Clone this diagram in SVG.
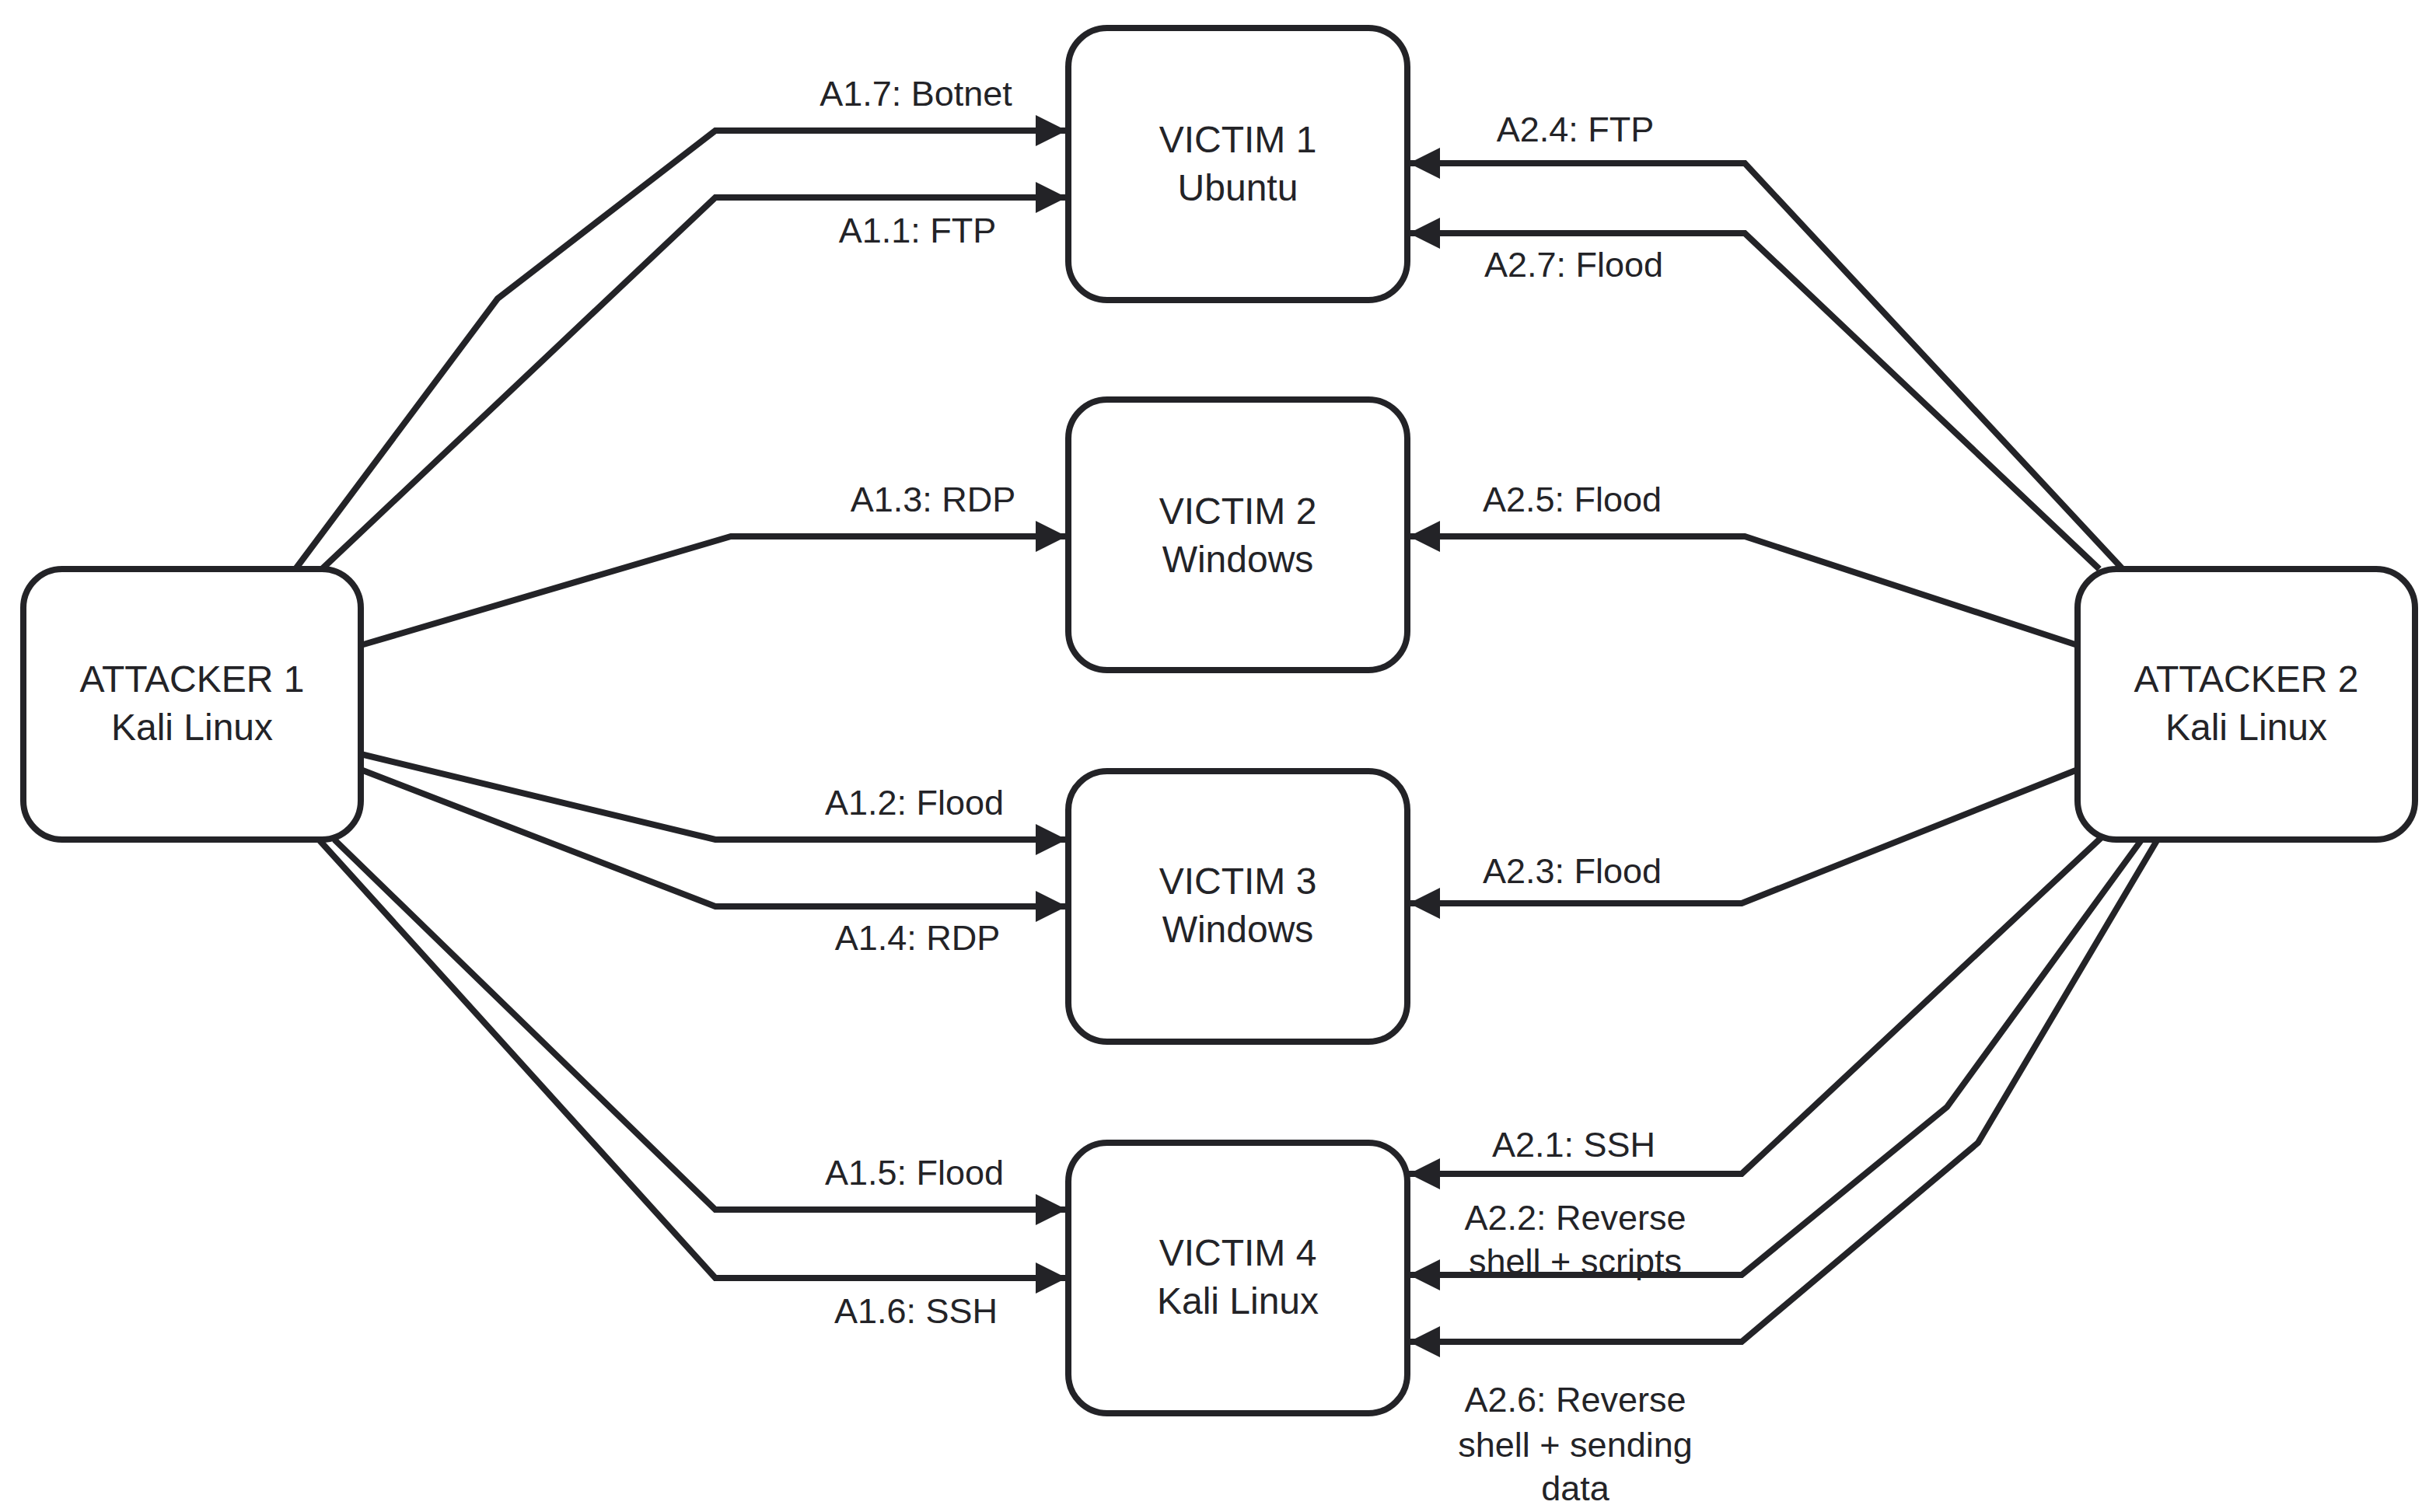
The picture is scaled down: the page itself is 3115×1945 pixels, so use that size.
<svg xmlns="http://www.w3.org/2000/svg" width="3115" height="1945" viewBox="0 0 3115 1945">
<style>
.box{fill:#fff;stroke:#232327;stroke-width:8}
.e{fill:none;stroke:#232327;stroke-width:8;stroke-linejoin:miter}
text{font-family:"Liberation Sans",Arial,sans-serif;fill:#232327;text-anchor:middle}
.n{font-size:48px}
.l{font-size:45px}
</style>
<defs>
<marker id="ah" markerUnits="userSpaceOnUse" markerWidth="44" markerHeight="40" refX="40" refY="20" orient="auto">
<path d="M0,0 L40,20 L0,40 Z" fill="#232327"/>
</marker>
</defs>
<rect width="3115" height="1945" fill="#fff"/>
<g id="connectors">
<polyline class="e" marker-end="url(#ah)" points="380,732 640,384 920,168 1372,168"/>
<polyline class="e" marker-end="url(#ah)" points="414,732 920,254 1372,254"/>
<polyline class="e" marker-end="url(#ah)" points="464,830 940,690 1372,690"/>
<polyline class="e" marker-end="url(#ah)" points="464,970 920,1080 1372,1080"/>
<polyline class="e" marker-end="url(#ah)" points="464,990 920,1166 1372,1166"/>
<polyline class="e" marker-end="url(#ah)" points="430,1080 920,1556 1372,1556"/>
<polyline class="e" marker-end="url(#ah)" points="410,1080 920,1644 1372,1644"/>
<polyline class="e" marker-end="url(#ah)" points="2730,732 2244,210 1812,210"/>
<polyline class="e" marker-end="url(#ah)" points="2700,732 2244,300 1812,300"/>
<polyline class="e" marker-end="url(#ah)" points="2672,830 2244,690 1812,690"/>
<polyline class="e" marker-end="url(#ah)" points="2672,990 2240,1162 1812,1162"/>
<polyline class="e" marker-end="url(#ah)" points="2702,1078 2240,1510 1812,1510"/>
<polyline class="e" marker-end="url(#ah)" points="2756,1078 2504,1424 2240,1640 1812,1640"/>
<polyline class="e" marker-end="url(#ah)" points="2776,1078 2544,1470 2240,1726 1812,1726"/>
<text class="l" x="1178" y="136">A1.7: Botnet</text>
<text class="l" x="1180" y="312">A1.1: FTP</text>
<text class="l" x="1200" y="658">A1.3: RDP</text>
<text class="l" x="1176" y="1048">A1.2: Flood</text>
<text class="l" x="1180" y="1222">A1.4: RDP</text>
<text class="l" x="1176" y="1524">A1.5: Flood</text>
<text class="l" x="1178" y="1702">A1.6: SSH</text>
<text class="l" x="2026" y="182">A2.4: FTP</text>
<text class="l" x="2024" y="356">A2.7: Flood</text>
<text class="l" x="2022" y="658">A2.5: Flood</text>
<text class="l" x="2022" y="1136">A2.3: Flood</text>
<text class="l" x="2024" y="1488">A2.1: SSH</text>
<text class="l" x="2026" y="1582">A2.2: Reverse</text>
<text class="l" x="2026" y="1638">shell + scripts</text>
<text class="l" x="2026" y="1816">A2.6: Reverse</text>
<text class="l" x="2026" y="1874">shell + sending</text>
<text class="l" x="2026" y="1930">data</text>
</g>
<g id="attacker1"><rect class="box" x="30" y="732" width="434" height="348" rx="50"/><text class="n" x="247" y="890">ATTACKER 1</text><text class="n" x="247" y="952">Kali Linux</text></g>
<g id="attacker2"><rect class="box" x="2672" y="732" width="434" height="348" rx="50"/><text class="n" x="2889" y="890">ATTACKER 2</text><text class="n" x="2889" y="952">Kali Linux</text></g>
<g id="victim1"><rect class="box" x="1374" y="36" width="436" height="350" rx="50"/><text class="n" x="1592" y="196">VICTIM 1</text><text class="n" x="1592" y="258">Ubuntu</text></g>
<g id="victim2"><rect class="box" x="1374" y="514" width="436" height="348" rx="50"/><text class="n" x="1592" y="674">VICTIM 2</text><text class="n" x="1592" y="736">Windows</text></g>
<g id="victim3"><rect class="box" x="1374" y="992" width="436" height="348" rx="50"/><text class="n" x="1592" y="1150">VICTIM 3</text><text class="n" x="1592" y="1212">Windows</text></g>
<g id="victim4"><rect class="box" x="1374" y="1470" width="436" height="348" rx="50"/><text class="n" x="1592" y="1628">VICTIM 4</text><text class="n" x="1592" y="1690">Kali Linux</text></g>
</svg>
